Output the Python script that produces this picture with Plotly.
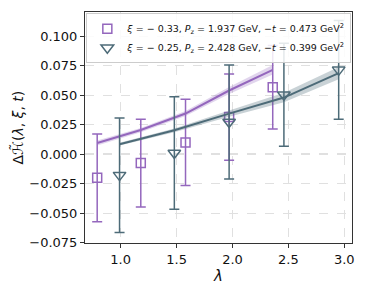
import plotly.graph_objects as go

# Data
lam_a = [0.79, 1.18, 1.58, 1.97, 2.36]
val_a = [-0.020, -0.0075, 0.0100, 0.0315, 0.0568]
err_a = [0.0372, 0.0372, 0.0365, 0.0365, 0.0354]
fit_a = [0.0095, 0.0205, 0.0345, 0.0540, 0.0715]
band_a = [0.0022, 0.0018, 0.0022, 0.0030, 0.0040]

lam_b = [0.99, 1.48, 1.97, 2.46, 2.95]
val_b = [-0.0177, 0.0010, 0.0273, 0.0504, 0.0715]
err_b = [0.0485, 0.0477, 0.0482, 0.0436, 0.0418]
fit_b = [0.0085, 0.0203, 0.0344, 0.0480, 0.0687]
band_b = [0.0012, 0.0016, 0.0026, 0.0040, 0.0052]

label_a = "<i>ξ</i> = − 0.33, <i>P</i><sub>z</sub> = 1.937 GeV, −<i>t</i> = 0.473 GeV<sup>2</sup>"
label_b = "<i>ξ</i> = − 0.25, <i>P</i><sub>z</sub> = 2.428 GeV, −<i>t</i> = 0.399 GeV<sup>2</sup>"
y_title = "Δ<i>ℋ̃</i>(<i>λ</i>, <i>ξ</i>, <i>t</i>)"

xticks = [1.0, 1.5, 2.0, 2.5, 3.0]
xticktext = ["1.0", "1.5", "2.0", "2.5", "3.0"]
yticks = [-0.075, -0.05, -0.025, 0.0, 0.025, 0.05, 0.075, 0.1]
yticktext = ["−0.075", "−0.050", "−0.025", "0.000", "0.025", "0.050", "0.075", "0.100"]

col_a = "#9467bd"
col_b = "#4d6b78"
fill_a = "rgba(148,103,189,0.28)"
fill_b = "rgba(77,107,120,0.30)"

fig = go.Figure()

def add_series(lam, val, err, fit, band, col, fill, label, symbol, size):
    up = [f + b for f, b in zip(fit, band)]
    lo = [f - b for f, b in zip(fit, band)]
    fig.add_trace(go.Scatter(x=lam, y=up, mode="lines", line=dict(width=0),
                             showlegend=False, hoverinfo="skip"))
    fig.add_trace(go.Scatter(x=lam, y=lo, mode="lines", line=dict(width=0),
                             fill="tonexty", fillcolor=fill,
                             showlegend=False, hoverinfo="skip"))
    fig.add_trace(go.Scatter(x=lam, y=fit, mode="lines", line=dict(color=col, width=2),
                             showlegend=False, hoverinfo="skip"))
    fig.add_trace(go.Scatter(x=lam, y=val, mode="markers", name=label,
                             marker=dict(symbol=symbol, size=size, color=col,
                                         line=dict(color=col, width=1.5)),
                             error_y=dict(type="data", array=err, color=col,
                                          thickness=1.5, width=5)))

add_series(lam_a, val_a, err_a, fit_a, band_a, col_a, fill_a, label_a, "square-open", 9)
add_series(lam_b, val_b, err_b, fit_b, band_b, col_b, fill_b, label_b, "triangle-down-open", 11)

fig.add_shape(type="line", xref="paper", x0=0, x1=1, yref="y", y0=0, y1=0,
              line=dict(color="#888888", width=1, dash="dash"), layer="below")

fig.add_annotation(text=y_title, xref="paper", yref="paper", x=0, y=0.5,
                   xanchor="center", yanchor="middle", xshift=-67, textangle=-90,
                   showarrow=False, font=dict(size=14, color="#111111"))

axis_common = dict(showline=True, mirror=True, linecolor="#333333", linewidth=1,
                   ticks="outside", ticklen=4, tickcolor="#333333",
                   showgrid=True, gridcolor="#e0e0e0", griddash="dash", gridwidth=1,
                   zeroline=False, tickfont=dict(size=13, color="#111111"))

# page body has an 8px margin, so the figure is shrunk to fit the 365x292 window
fig.update_layout(
    width=357, height=284,
    margin=dict(l=77, r=13, t=4, b=49, autoexpand=False),
    paper_bgcolor="white", plot_bgcolor="white",
    font=dict(family="DejaVu Sans", color="#111111"),
    xaxis=dict(range=[0.681, 3.069], tickvals=xticks, ticktext=xticktext,
               title=dict(text="<i>λ</i>", font=dict(size=15), standoff=0), **axis_common),
    yaxis=dict(range=[-0.0752, 0.1205], tickvals=yticks, ticktext=yticktext,
               **axis_common),
    legend=dict(x=0.005, y=0.995, xanchor="left", yanchor="top", traceorder="normal",
                bgcolor="rgba(255,255,255,0.85)", bordercolor="#cccccc", borderwidth=1,
                font=dict(size=9.5), itemwidth=30, tracegroupgap=0),
    showlegend=True,
)

fig.write_html("out.html")
